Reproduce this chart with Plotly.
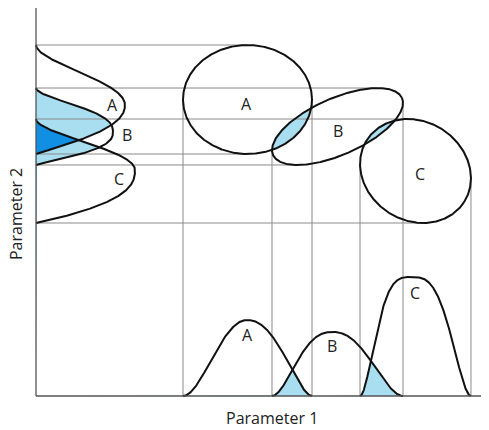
import numpy as np
import plotly.graph_objects as go

# Two-parameter separation diagram: three populations A, B, C
names = ["A", "B", "C"]

# ellipses in the Parameter 1 / Parameter 2 plane
ell_cx = [211.5, 301.5, 379.5]
ell_cy = [296.5, 269.5, 225.0]
ell_a = [64.5, 70.5, 57.7]
ell_b = [54.5, 28.3, 49.5]
ell_deg = [0.0, 23.8, -32.4]

# projections onto Parameter 1 (bottom); lo = left flank, hi = right flank
p1_peak = [211, 297, 376]
p1_height = [76, 64, 119]
p1_q_lo = [2.0, 2.5, 3.4]
p1_r_lo = [2.0, 2.0, 2.0]
p1_q_hi = [2.2, 2.2, 3.0]
p1_r_hi = [1.8, 2.0, 2.0]

# projections onto Parameter 2 (left); lo = lower flank, hi = upper flank
p2_peak = [291, 264, 226]
p2_height = [89, 77, 99]
p2_q_lo = [2.2, 2.5, 2.5]
p2_r_lo = [1.1, 1.2, 1.0]
p2_q_hi = [2.0, 2.5, 2.0]
p2_r_hi = [2.0, 2.0, 2.0]

# label offsets (ellipse labels from centres, curve labels from peaks)
ell_lab_dx = [-1.5, 0, 4.5]
ell_lab_dy = [-4.5, -4.5, -3]
p1_lab_dx = [0, -1, 3]
p1_lab_dy = [-15, -14, -16]
p2_lab_dx = [-13, 14, -16]
p2_lab_dy = [0, -3, -9]

LIGHT = "#a8def0"
DARK = "#118fe3"
GUIDE = "#8a8a8a"
INK = "#111111"


def ellipse_pts(i, n=721):
    u = np.linspace(0, 2 * np.pi, n)
    t = np.radians(ell_deg[i])
    x0 = ell_a[i] * np.cos(u)
    y0 = ell_b[i] * np.sin(u)
    x = ell_cx[i] + x0 * np.cos(t) - y0 * np.sin(t)
    y = ell_cy[i] + x0 * np.sin(t) + y0 * np.cos(t)
    return x, y


def inside(i, x, y):
    t = np.radians(ell_deg[i])
    dx, dy = x - ell_cx[i], y - ell_cy[i]
    u = dx * np.cos(t) + dy * np.sin(t)
    v = -dx * np.sin(t) + dy * np.cos(t)
    return (u / ell_a[i]) ** 2 + (v / ell_b[i]) ** 2 <= 1.0


def bump(v, lo, pk, hi, h, qlo, rlo, qhi, rhi):
    left = v < pk
    t = np.where(left, (pk - v) / (pk - lo), (v - pk) / (hi - pk))
    t = np.clip(t, 0, 1)
    out = np.where(left, (1 - t ** qlo) ** rlo, (1 - t ** qhi) ** rhi) * h
    return np.where((v >= lo) & (v <= hi), out, 0.0)


def p1_curve(i, v):
    return bump(v, ext[i]["left"][0], p1_peak[i], ext[i]["right"][0], p1_height[i],
                p1_q_lo[i], p1_r_lo[i], p1_q_hi[i], p1_r_hi[i])


def p2_curve(i, v):
    return bump(v, ext[i]["bottom"][1], p2_peak[i], ext[i]["top"][1], p2_height[i],
                p2_q_lo[i], p2_r_lo[i], p2_q_hi[i], p2_r_hi[i])


fig = go.Figure()

# extreme points of each ellipse
ext = []
for i in range(3):
    x, y = ellipse_pts(i, 4001)
    ext.append(dict(
        left=(x[np.argmin(x)], y[np.argmin(x)]),
        right=(x[np.argmax(x)], y[np.argmax(x)]),
        bottom=(x[np.argmin(y)], y[np.argmin(y)]),
        top=(x[np.argmax(y)], y[np.argmax(y)]),
    ))

# --- shaded overlaps -------------------------------------------------------
xs = np.linspace(0, 460, 2301)
p1 = np.array([p1_curve(i, xs) for i in range(3)])
p1_second = np.sort(p1, axis=0)[-2]
fig.add_trace(go.Scatter(x=xs, y=p1_second, mode="lines", fill="tozeroy",
                         fillcolor=LIGHT, line=dict(width=0)))

ys = np.linspace(0, 390, 1951)
p2 = np.array([p2_curve(i, ys) for i in range(3)])
p2_second = np.sort(p2, axis=0)[-2]
p2_min = p2.min(axis=0)
fig.add_trace(go.Scatter(x=p2_second, y=ys, mode="lines", fill="tozerox",
                         fillcolor=LIGHT, line=dict(width=0)))
fig.add_trace(go.Scatter(x=p2_min, y=ys, mode="lines", fill="tozerox",
                         fillcolor=DARK, line=dict(width=0)))

# lens overlaps of neighbouring ellipses
for i, j in [(0, 1), (1, 2)]:
    xi, yi = ellipse_pts(i)
    xj, yj = ellipse_pts(j)
    mi = inside(j, xi, yi)
    mj = inside(i, xj, yj)
    px = np.concatenate([xi[mi], xj[mj]])
    py = np.concatenate([yi[mi], yj[mj]])
    ang = np.arctan2(py - py.mean(), px - px.mean())
    order = np.argsort(ang)
    px, py = px[order], py[order]
    fig.add_trace(go.Scatter(x=np.append(px, px[0]), y=np.append(py, py[0]),
                             mode="lines", fill="toself", fillcolor=LIGHT,
                             line=dict(width=0)))

# --- guide lines -----------------------------------------------------------
gx, gy = [], []
for e in ext:
    for k in ("top", "bottom"):
        gx += [0, e[k][0], None]
        gy += [e[k][1], e[k][1], None]
    for k in ("left", "right"):
        gx += [e[k][0], e[k][0], None]
        gy += [e[k][1], 0, None]
fig.add_trace(go.Scatter(x=gx, y=gy, mode="lines",
                         line=dict(color=GUIDE, width=1)))

# --- ellipses and distribution curves -------------------------------------
for i in range(3):
    x, y = ellipse_pts(i)
    fig.add_trace(go.Scatter(x=x, y=y, mode="lines",
                             line=dict(color=INK, width=2)))
    cx = np.linspace(ext[i]["left"][0], ext[i]["right"][0], 400)
    fig.add_trace(go.Scatter(x=cx, y=p1_curve(i, cx), mode="lines",
                             line=dict(color=INK, width=2)))
    cy = np.linspace(ext[i]["bottom"][1], ext[i]["top"][1], 400)
    fig.add_trace(go.Scatter(x=p2_curve(i, cy), y=cy, mode="lines",
                             line=dict(color=INK, width=2)))

# axes
fig.add_trace(go.Scatter(x=[0, 0, None, 0, 447], y=[388, 0, None, 0, 0],
                         mode="lines", line=dict(color="#555555", width=1.3)))

# --- labels ----------------------------------------------------------------
font = dict(family="Open Sans, Lato, sans-serif", size=16, color="#222222")
annotations = []
for i, n in enumerate(names):
    annotations.append(dict(x=ell_cx[i] + ell_lab_dx[i], y=ell_cy[i] + ell_lab_dy[i],
                            text=n, showarrow=False, font=font))
    annotations.append(dict(x=p1_peak[i] + p1_lab_dx[i], y=p1_height[i] + p1_lab_dy[i],
                            text=n, showarrow=False, font=font))
    annotations.append(dict(x=p2_height[i] + p2_lab_dx[i], y=p2_peak[i] + p2_lab_dy[i],
                            text=n, showarrow=False, font=font))
annotations.append(dict(x=236, y=-22, text="Parameter 1", showarrow=False, font=font))
annotations.append(dict(x=-20, y=182, text="Parameter 2", showarrow=False,
                        textangle=-90, font=font))

# page body has an 8px margin, so ranges are shifted to keep the origin in place
fig.update_layout(
    width=489, height=430,
    margin=dict(l=0, r=0, t=0, b=0),
    paper_bgcolor="white", plot_bgcolor="white",
    showlegend=False,
    annotations=annotations,
    xaxis=dict(range=[-28, 461], visible=False, fixedrange=True),
    yaxis=dict(range=[-42, 388], visible=False, fixedrange=True),
)

fig.write_html("out.html")
